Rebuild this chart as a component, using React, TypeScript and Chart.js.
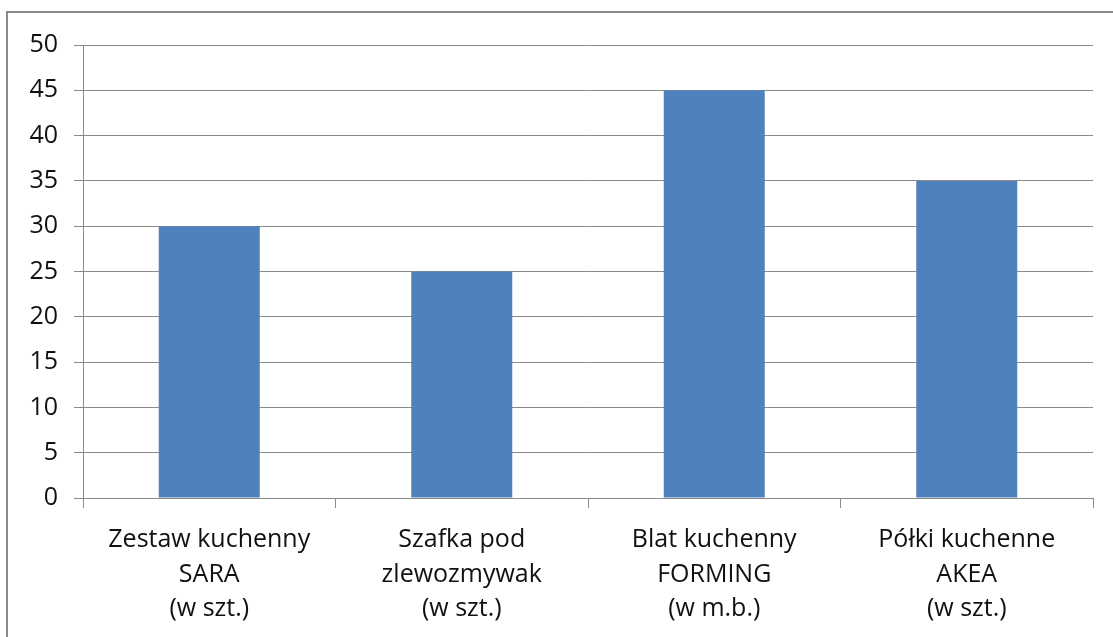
import React, { useEffect, useRef } from "react";
import { Chart, registerables } from "chart.js";

Chart.register(...registerables);

const categories: string[][] = [
  ["Zestaw kuchenny", "SARA", "(w szt.)"],
  ["Szafka pod", "zlewozmywak", "(w szt.)"],
  ["Blat kuchenny", "FORMING", "(w m.b.)"],
  ["Półki kuchenne", "AKEA", "(w szt.)"],
];
const values: number[] = [30, 25, 45, 35];
const yMin = 0;
const yMax = 50;
const yStep = 5;

const FONT = "'Open Sans', sans-serif";

const framePlugin = {
  id: "frame",
  beforeDraw(chart: any) {
    const ctx = chart.ctx;
    ctx.save();
    ctx.fillStyle = "#8a8a8a";
    ctx.fillRect(6, 11, 2, chart.height);
    ctx.fillRect(6, 11, chart.width, 2);
    ctx.restore();
  },
};

export default function App() {
  const ref = useRef<HTMLCanvasElement | null>(null);
  useEffect(() => {
    document.body.style.margin = "0";
    const c = new Chart(ref.current as HTMLCanvasElement, {
      type: "bar",
      data: {
        labels: categories,
        datasets: [
          {
            data: values,
            backgroundColor: "#4F81BD",
            borderWidth: 0,
            categoryPercentage: 1,
            barPercentage: 0.4,
          },
        ],
      },
      options: {
        animation: false,
        responsive: false,
        maintainAspectRatio: false,
        layout: { padding: { left: 0, top: 45, right: 20, bottom: 0 } },
        plugins: { legend: { display: false }, tooltip: { enabled: false } },
        scales: {
          x: {
            grid: {
              display: true,
              drawOnChartArea: false,
              drawTicks: true,
              tickLength: 10,
              color: "#8a8a8a",
              lineWidth: 1,
            },
            border: { display: true, color: "#8a8a8a", width: 1 },
            ticks: {
              color: "#111",
              font: { family: FONT, size: 25, lineHeight: 1.38 },
              maxRotation: 0,
              minRotation: 0,
              autoSkip: false,
              padding: 15,
            },
            afterFit(scale: any) {
              scale.height = 139;
            },
          },
          y: {
            min: yMin,
            max: yMax,
            ticks: {
              stepSize: yStep,
              color: "#111",
              font: { family: FONT, size: 25 },
              padding: 16,
            },
            grid: {
              color: "#8a8a8a",
              lineWidth: 1,
              tickLength: 9,
              drawTicks: true,
            },
            border: { display: true, color: "#8a8a8a", width: 1 },
            afterFit(scale: any) {
              scale.width = 83;
            },
          },
        },
      },
      plugins: [framePlugin],
    });
    return () => c.destroy();
  }, []);
  return (
    <div style={{ position: "fixed", left: 0, top: 0, width: 1113, height: 637, background: "#fff" }}>
      <canvas ref={ref} width={1113} height={637} style={{ width: 1113, height: 637 }} />
    </div>
  );
}
